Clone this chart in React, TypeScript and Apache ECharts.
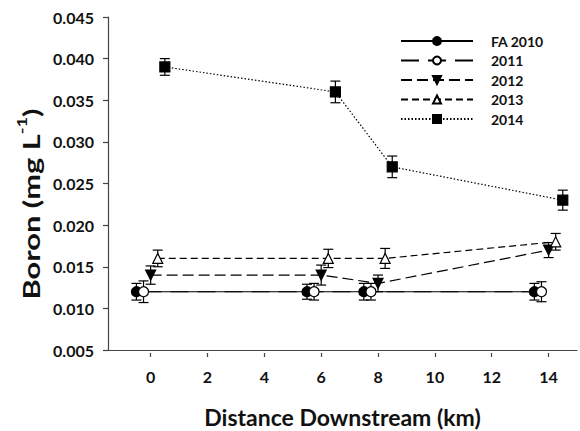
import React, { useEffect, useRef } from "react";
import * as echarts from "echarts";

const seriesNames = ["FA 2010", "2011", "2012", "2013", "2014"];

const xFA2010 = [-0.5, 5.5, 7.5, 13.5];
const yFA2010 = [0.012, 0.012, 0.012, 0.012];
const eFA2010 = [0.001, 0.0009, 0.001, 0.001];

const x2011 = [-0.25, 5.75, 7.75, 13.75];
const y2011 = [0.012, 0.012, 0.012, 0.012];
const e2011 = [0.0013, 0.001, 0.001, 0.0012];

const x2012 = [0, 6, 8, 14];
const y2012 = [0.014, 0.014, 0.013, 0.017];
const e2012 = [0.0011, 0.0012, 0.001, 0.0009];

const x2013 = [0.25, 6.25, 8.25, 14.25];
const y2013 = [0.016, 0.016, 0.016, 0.018];
const e2013 = [0.001, 0.0011, 0.0012, 0.001];

const x2014 = [0.5, 6.5, 8.5, 14.5];
const y2014 = [0.039, 0.036, 0.027, 0.023];
const e2014 = [0.001, 0.0013, 0.0013, 0.0012];

const xTicks = [0, 2, 4, 6, 8, 10, 12, 14];

const FONT = "Lato, 'Open Sans', sans-serif";

export default function App() {
  const ref = useRef<HTMLDivElement>(null);
  useEffect(() => {
    if (!ref.current) return;
    const chart = echarts.init(ref.current, undefined, { renderer: "svg" });

    const xs = [xFA2010, x2011, x2012, x2013, x2014];
    const ys = [yFA2010, y2011, y2012, y2013, y2014];
    const es = [eFA2010, e2011, e2012, e2013, e2014];
    const symbols = ["circle", "circle", "triangle", "triangle", "rect"];
    const rotates = [0, 0, 180, 0, 0];
    const fills = ["#000", "#fff", "#000", "#fff", "#000"];
    const dashes: any[] = ["solid", [18, 9], [11, 5], [7, 4], [1.5, 2]];
    const sizes = [10, 10, 10, 10, 10];

    const errData: number[][] = [];
    xs.forEach((xa, i) =>
      xa.forEach((x, j) => errData.push([x, ys[i][j] - es[i][j], ys[i][j] + es[i][j]]))
    );

    const lineSeries = seriesNames.map((name, i) => ({
      name,
      type: "line",
      xAxisIndex: 0,
      yAxisIndex: 0,
      z: 3,
      data: xs[i].map((x, j) => [x, ys[i][j]]),
      symbol: symbols[i],
      symbolRotate: rotates[i],
      symbolSize: sizes[i],
      showAllSymbol: true,
      itemStyle: { color: fills[i], borderColor: "#000", borderWidth: 1.2 },
      lineStyle: { color: "#000", width: 1.2, type: dashes[i] },
      emphasis: { disabled: true },
    }));

    const option: any = {
      animation: false,
      backgroundColor: "#fff",
      grid: {
        left: 108,
        right: 3,
        top: 17,
        bottom: 81,
        containLabel: false,
        outerBoundsMode: "none",
      },
      xAxis: [
        {
          type: "value",
          min: -1.5,
          max: 15,
          position: "bottom",
          axisLine: { show: true, onZero: false, lineStyle: { color: "#444", width: 1.2 } },
          axisTick: { show: false },
          axisLabel: { show: false },
          splitLine: { show: false },
        },
        {
          type: "value",
          min: -1.5,
          max: 15,
          position: "bottom",
          offset: 3,
          axisLine: { show: false, onZero: false },
          axisTick: {
            show: true,
            length: 4,
            customValues: xTicks,
            lineStyle: { color: "#444", width: 1.2 },
          },
          axisLabel: {
            show: true,
            customValues: xTicks,
            margin: 15,
            fontFamily: FONT,
            fontWeight: "bold",
            fontSize: 16,
            color: "#111",
          },
          splitLine: { show: false },
          name: "Distance Downstream (km)",
          nameLocation: "middle",
          nameGap: 52,
          nameTextStyle: {
            fontFamily: FONT,
            fontWeight: "bold",
            fontSize: 23,
            lineHeight: 24,
            color: "#111",
          },
        },
      ],
      yAxis: {
        type: "value",
        min: 0.005,
        max: 0.045,
        interval: 0.005,
        axisLine: { show: true, onZero: false, lineStyle: { color: "#444", width: 1.2 } },
        axisTick: { show: true, length: 5, lineStyle: { color: "#444", width: 1.2 } },
        axisLabel: {
          margin: 14,
          fontFamily: FONT,
          fontWeight: "bold",
          fontSize: 16,
          color: "#111",
          formatter: (v: number) => v.toFixed(3),
        },
        splitLine: { show: false },
      },
      legend: {
        data: seriesNames,
        orient: "vertical",
        left: 395,
        top: 29,
        itemWidth: 72,
        itemHeight: 10,
        itemGap: 5.5,
        textStyle: {
          fontFamily: FONT,
          fontWeight: "bold",
          fontSize: 14,
          color: "#111",
          padding: [0, 0, 0, 13],
        },
        selectedMode: false,
      },
      graphic: [
        {
          type: "text",
          x: 29,
          y: 204,
          rotation: Math.PI / 2,
          scaleX: 1.4,
          style: {
            text: "{n|Boron (mg L}{s|-1}{n|)}",
            align: "center",
            verticalAlign: "middle",
            fill: "#111",
            rich: {
              n: {
                fontFamily: FONT,
                fontWeight: "bold",
                fontSize: 22,
                lineHeight: 27,
                verticalAlign: "bottom",
                fill: "#111",
              },
              s: {
                fontFamily: FONT,
                fontWeight: "bold",
                fontSize: 13,
                lineHeight: 27,
                verticalAlign: "top",
                fill: "#111",
              },
            },
          },
        },
      ],
      series: [
        {
          type: "custom",
          name: "err",
          xAxisIndex: 0,
          yAxisIndex: 0,
          z: 2,
          silent: true,
          data: errData,
          renderItem: (params: any, api: any) => {
            const x = api.value(0);
            const lo = api.value(1);
            const hi = api.value(2);
            const t = api.coord([x, hi]);
            const b = api.coord([x, lo]);
            const w = 5;
            const st = { stroke: "#000", lineWidth: 1.2 };
            return {
              type: "group",
              children: [
                { type: "line", shape: { x1: t[0], y1: t[1], x2: b[0], y2: b[1] }, style: st },
                { type: "line", shape: { x1: t[0] - w, y1: t[1], x2: t[0] + w, y2: t[1] }, style: st },
                { type: "line", shape: { x1: b[0] - w, y1: b[1], x2: b[0] + w, y2: b[1] }, style: st },
              ],
            };
          },
        },
        ...lineSeries,
      ],
    };
    chart.setOption(option);
    return () => chart.dispose();
  }, []);
  return <div ref={ref} style={{ width: 580, height: 431, position: "absolute", left: 0, top: 0 }} />;
}
